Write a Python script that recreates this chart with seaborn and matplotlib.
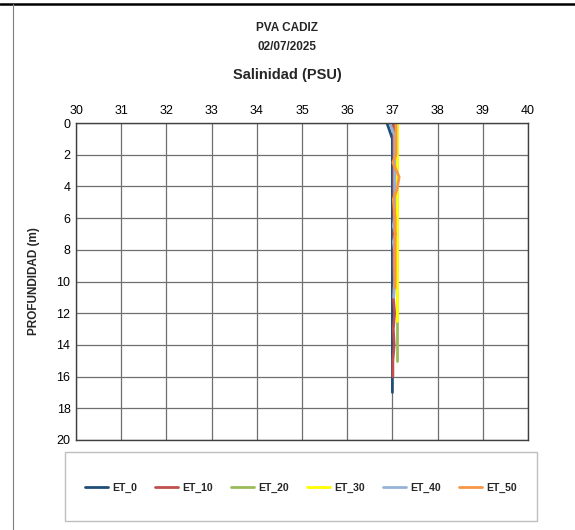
import numpy as np
import pandas as pd
import matplotlib
matplotlib.use('Agg')
import matplotlib.pyplot as plt
import seaborn as sns
from matplotlib.patches import Rectangle
from matplotlib.lines import Line2D

# Salinity profiles (PSU) per station, depth in metres
depth_0 = [0, 1, 2, 3, 4, 5, 6, 7, 8, 9, 10, 11, 12, 13, 14, 15, 16, 17]
sal_0 = [36.88, 37.0, 37.0, 37.0, 37.0, 37.0, 37.0, 37.0, 37.0, 37.0, 37.0, 37.0, 37.0, 37.0, 37.0, 37.0, 37.0, 37.0]

depth_10 = [0, 1, 2, 3, 4, 5, 6, 7, 8, 9, 10, 11, 12, 13, 14, 15, 16]
sal_10 = [37.03, 37.03, 37.03, 37.03, 37.03, 37.03, 37.03, 37.03, 37.03, 37.03, 37.04, 37.02, 37.05, 37.02, 37.04, 37.01, 37.01]

depth_20 = [0, 1, 2, 3, 4, 5, 6, 7, 8, 9, 10, 11, 12, 13, 14, 15]
sal_20 = [37.1, 37.1, 37.1, 37.1, 37.1, 37.1, 37.1, 37.1, 37.1, 37.1, 37.1, 37.1, 37.1, 37.1, 37.1, 37.1]

depth_30 = [0, 1, 2, 3, 4, 5, 6, 7, 8, 9, 10, 11, 12.5]
sal_30 = [37.1, 37.1, 37.1, 37.1, 37.1, 37.1, 37.1, 37.1, 37.1, 37.1, 37.1, 37.1, 37.1]

depth_40 = [0, 0.8, 2, 3, 4, 5, 6, 6.5, 7, 7.5, 8, 9, 10, 11]
sal_40 = [36.94, 37.05, 37.05, 37.05, 37.05, 37.05, 37.05, 37.02, 37.07, 37.02, 37.05, 37.05, 37.05, 37.03]

depth_50 = [0, 1, 2, 2.5, 3.4, 4.2, 4.8, 6, 7, 8, 9, 10.4]
sal_50 = [37.08, 37.08, 37.08, 37.01, 37.15, 37.1, 37.02, 37.06, 37.06, 37.06, 37.06, 37.06]

stations = ['ET_0', 'ET_10', 'ET_20', 'ET_30', 'ET_40', 'ET_50']
colors = ['#1F4E79', '#C0504D', '#9BBB59', '#FFFF00', '#95B3D7', '#F79646']

profiles = [(depth_0, sal_0), (depth_10, sal_10), (depth_20, sal_20),
            (depth_30, sal_30), (depth_40, sal_40), (depth_50, sal_50)]
frames = []
for name, (d, s) in zip(stations, profiles):
    frames.append(pd.DataFrame({'depth': d, 'sal': s, 'station': name}))
df = pd.concat(frames, ignore_index=True)

sns.set_style('white')
plt.rcParams['font.family'] = ['Liberation Sans', 'DejaVu Sans']

fig = plt.figure(figsize=(5.75, 5.3), dpi=100)
ax = fig.add_axes([76 / 575, 1 - 440 / 530, 452 / 575, 317 / 530])

sns.lineplot(data=df, x='sal', y='depth', hue='station', hue_order=stations,
             palette=colors, orient='y', sort=False, estimator=None,
             linewidth=2.0, legend=False, ax=ax)

ax.set_xlim(30, 40)
ax.set_ylim(20, 0)
ax.set_xticks(np.arange(30, 41, 1))
ax.set_yticks(np.arange(0, 21, 2))
ax.xaxis.tick_top()
ax.tick_params(axis='both', labelsize=9, length=0, pad=4, labelcolor='black')
ax.grid(True, color='#6f6f6f', linewidth=0.9)
ax.set_axisbelow(True)
for sp in ax.spines.values():
    sp.set_color('#404040')
    sp.set_linewidth(1.0)
ax.set_xlabel('')
ax.set_ylabel('PROFUNDIDAD (m)', fontsize=8.5, fontweight='bold', labelpad=12)

fig.text(0.5, 1 - 28 / 530, 'PVA CADIZ', ha='center', va='center', fontsize=8.5, fontweight='bold')
fig.text(0.5, 1 - 47 / 530, '02/07/2025', ha='center', va='center', fontsize=8.5, fontweight='bold')
fig.text(0.5, 1 - 75 / 530, 'Salinidad (PSU)', ha='center', va='center', fontsize=10.5, fontweight='bold')

# outer frame pieces
fig.add_artist(Line2D([0, 1], [1 - 4 / 530, 1 - 4 / 530], color='black', linewidth=1.8))
fig.add_artist(Line2D([13 / 575, 13 / 575], [0, 1 - 4 / 530], color='#7f7f7f', linewidth=0.8))

# legend box
fig.add_artist(Rectangle((65 / 575, 1 - 521 / 530), 472 / 575, 69 / 530,
                         transform=fig.transFigure, fill=False,
                         edgecolor='#bfbfbf', linewidth=1.0))
handles = [Line2D([0], [0], color=c, linewidth=2) for c in colors]
leg = fig.legend(handles, stations, loc='center', bbox_to_anchor=(301 / 575, 1 - 488 / 530),
                 ncol=6, frameon=False, fontsize=7.5, handlelength=2.2,
                 handletextpad=0.4, columnspacing=1.75)
for t in leg.get_texts():
    t.set_fontweight('bold')

fig.savefig('out.png', dpi=100)
